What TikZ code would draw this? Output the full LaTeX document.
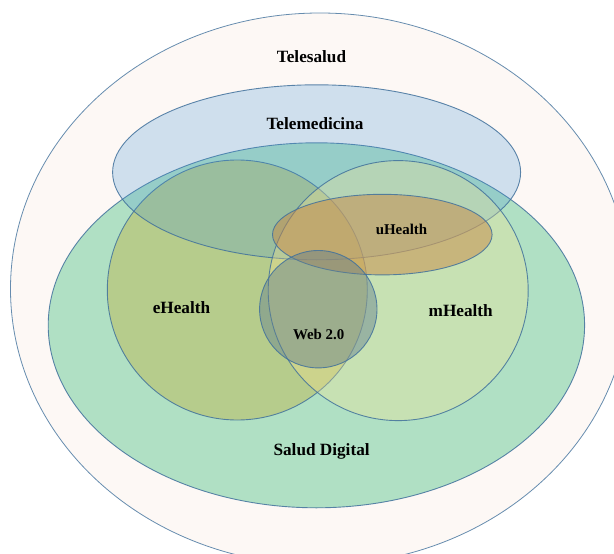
\documentclass[tikz,border=0pt]{standalone}
\usepackage{fontspec}
\setmainfont{Liberation Serif}
\begin{document}
\definecolor{outline}{RGB}{65,113,156}
\definecolor{peach}{RGB}{253,248,245}
\definecolor{saludgreen}{RGB}{176,224,196}
\definecolor{eolive}{RGB}{187,188,94}
\definecolor{teleblue}{RGB}{73,151,215}
\definecolor{myellow}{RGB}{255,230,143}
\definecolor{ugold}{RGB}{200,138,70}
\definecolor{webgray}{RGB}{98,127,143}
\begin{tikzpicture}[x=1pt,y=-1pt,
  setshape/.style={draw=outline,line width=0.9pt,draw opacity=0.85},
  biglabel/.style={font=\fontsize{17.2}{20}\selectfont\bfseries,inner sep=0pt},
  smalllabel/.style={font=\fontsize{14.9}{18}\selectfont\bfseries,inner sep=0pt}]
\useasboundingbox (0,0) rectangle (614,554);

% centres of the sets
\coordinate (ctelesalud) at (320,289);
\coordinate (csalud) at (316.4,325.3);
\coordinate (cehealth) at (237.3,290);
\coordinate (ctele) at (316.6,172.3);
\coordinate (cmhealth) at (398.2,290.6);
\coordinate (cuhealth) at (382.3,234.6);
\coordinate (cweb) at (318.3,309.2);

% sets, back to front
\path[setshape,fill=peach,draw opacity=0.8,line width=0.8pt] (ctelesalud) ellipse [x radius=309.5,y radius=276];
\path[setshape,fill=saludgreen] (csalud) ellipse [x radius=268.2,y radius=182.5];
\path[setshape,fill=eolive,fill opacity=0.55] (cehealth) circle [radius=130];
\path[setshape,fill=teleblue,fill opacity=0.25] (ctele) ellipse [x radius=204,y radius=87.5];
\path[setshape,fill=myellow,fill opacity=0.3] (cmhealth) circle [radius=130];
\path[setshape,fill=ugold,fill opacity=0.5] (cuhealth) ellipse [x radius=109.8,y radius=40.3];
\path[setshape,fill=webgray,fill opacity=0.45] (cweb) circle [radius=58.7];

% labels
\node[biglabel] (ltelesalud) at (311.5,56.5) {Telesalud};
\node[biglabel] (ltele) at (315,123.7) {Telemedicina};
\node[smalllabel] (luhealth) at (401.5,229.7) {uHealth};
\node[biglabel] (lehealth) at (181.5,307.4) {eHealth};
\node[biglabel] (lmhealth) at (460.7,310.2) {mHealth};
\node[smalllabel] (lweb) at (318.7,334) {Web 2.0};
\node[biglabel] (lsalud) at (321.6,451.6) {Salud Digital};
\end{tikzpicture}
\end{document}
